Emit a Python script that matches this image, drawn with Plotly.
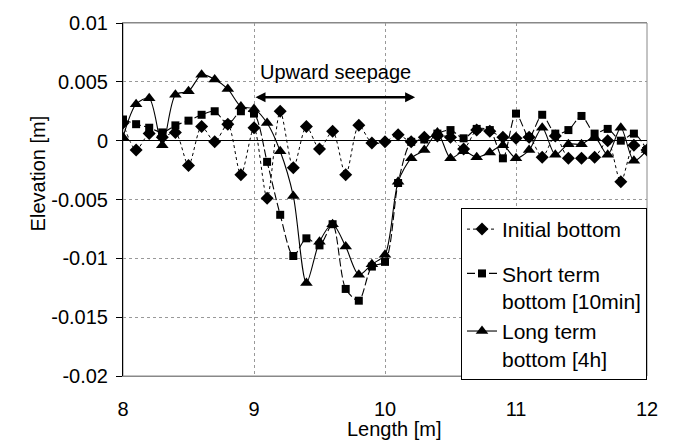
import plotly.graph_objects as go

length_m = [8.0, 8.1, 8.2, 8.3, 8.4, 8.5, 8.6, 8.7, 8.8, 8.9,
            9.0, 9.1, 9.2, 9.3, 9.4, 9.5, 9.6, 9.7, 9.8, 9.9,
            10.0, 10.1, 10.2, 10.3, 10.4, 10.5, 10.6, 10.7, 10.8, 10.9,
            11.0, 11.1, 11.2, 11.3, 11.4, 11.5, 11.6, 11.7, 11.8, 11.9, 12.0]

initial_bottom = [0.0015, -0.0008, 0.0006, 0.0003, 0.0007, -0.0021, 0.0012, -0.0001, 0.0014, -0.0029,
                  0.0011, -0.0049, 0.0025, -0.0023, 0.0012, -0.0007, 0.0008, -0.0029, 0.0013, -0.0002,
                  -0.0001, 0.0005, -0.0001, 0.0003, 0.0004, 0.0003, -0.0007, 0.0009, 0.0008, 0.0003,
                  0.0002, 0.0003, -0.0014, 0.0004, -0.0015, -0.0015, -0.0014, 0.0000, -0.0035, -0.0004, -0.0008]

short_term = [0.0018, 0.0014, 0.0011, 0.0007, 0.0013, 0.0017, 0.0022, 0.0025, 0.0014, 0.0025,
              0.0023, -0.0018, -0.0063, -0.0098, -0.0083, -0.0089, -0.0071, -0.0126, -0.0136, -0.0107,
              -0.0103, -0.0036, -0.0001, 0.0001, 0.0006, 0.0009, 0.0002, 0.0010, 0.0009, -0.0015,
              0.0023, 0.0003, 0.0022, 0.0006, 0.0009, 0.0021, 0.0006, 0.0010, 0.0000, 0.0006, -0.0008]

long_term = [0.0003, 0.0031, 0.0036, -0.0004, 0.0039, 0.0042, 0.0056, 0.0052, 0.0044, 0.0029,
             0.0027, 0.0015, -0.0009, -0.0047, -0.0121, -0.0086, -0.0071, -0.0090, -0.0114, -0.0105,
             -0.0097, -0.0035, -0.0015, -0.0008, 0.0007, -0.0015, -0.0009, -0.0014, -0.0010, -0.0004,
             -0.0015, -0.0008, 0.0011, -0.0012, -0.0003, -0.0003, 0.0003, -0.0012, 0.0011, -0.0017, -0.0008]

x_ticks = [8, 9, 10, 11, 12]
x_tick_labels = ["8", "9", "10", "11", "12"]
y_ticks = [0.01, 0.005, 0, -0.005, -0.01, -0.015, -0.02]
y_tick_labels = ["0.01", "0.005", "0", "-0.005", "-0.01", "-0.015", "-0.02"]

FONT = "Liberation Sans, Arial, sans-serif"

fig = go.Figure()
fig.add_trace(go.Scatter(
    x=length_m, y=initial_bottom, name="Initial bottom", mode="lines+markers",
    legendgroup="g1",
    line=dict(color="black", width=1, dash="dot", shape="spline", smoothing=0.8),
    marker=dict(symbol="diamond", size=10, color="black")))
fig.add_trace(go.Scatter(
    x=length_m, y=short_term, name="Short term<br>bottom [10min]", mode="lines+markers",
    legendgroup="g2",
    line=dict(color="black", width=1.1, dash="8px,3px", shape="spline", smoothing=0.8),
    marker=dict(symbol="square", size=8, color="black")))
fig.add_trace(go.Scatter(
    x=length_m, y=long_term, name="Long term<br>bottom [4h]", mode="lines+markers",
    legendgroup="g2",
    line=dict(color="black", width=1.1, shape="spline", smoothing=0.8),
    marker=dict(symbol="triangle-up", size=11, color="black")))

fig.update_layout(
    width=673, height=445,
    margin=dict(l=123, r=26, t=17, b=69),
    paper_bgcolor="white", plot_bgcolor="white",
    font=dict(family=FONT, size=20, color="black"),
    showlegend=True,
    legend=dict(x=1, xanchor="right", y=0.476, yanchor="top",
                bgcolor="white", bordercolor="black", borderwidth=1,
                font=dict(size=21), valign="top", tracegroupgap=14,
                itemwidth=30, groupclick="toggleitem"),
    xaxis=dict(range=[8, 12], tickvals=x_ticks, ticktext=x_tick_labels,
               showgrid=True, gridcolor="#999999", griddash="dot", gridwidth=1,
               zeroline=False, showline=True, linecolor="#888888", mirror=True,
               ticks="", ticklabelstandoff=15, tickfont=dict(size=20)),
    yaxis=dict(range=[-0.02, 0.01], tickvals=y_ticks, ticktext=y_tick_labels,
               showgrid=True, gridcolor="#999999", griddash="dot", gridwidth=1,
               zeroline=True, zerolinecolor="black", zerolinewidth=1,
               showline=True, linecolor="black", linewidth=1, mirror=False,
               ticks="outside", ticklen=6, tickcolor="black",
               ticklabelstandoff=4, tickfont=dict(size=20)),
    shapes=[dict(type="rect", xref="paper", yref="paper", x0=0, x1=1, y0=0, y1=1,
                 line=dict(color="#888888", width=1), layer="below")],
    annotations=[
        dict(text="Elevation [m]", xref="paper", yref="paper", x=-0.187, y=0.574,
             textangle=-90, showarrow=False, font=dict(size=20)),
        dict(text="Length [m]", xref="paper", yref="paper", x=0.519, y=-0.15,
             showarrow=False, font=dict(size=20), yanchor="middle"),
        dict(text="Upward seepage", xref="x", yref="y", x=9.62, y=0.0058,
             showarrow=False, font=dict(size=20)),
        dict(text="", xref="x", yref="y", axref="x", ayref="y",
             x=10.23, y=0.0037, ax=9.0, ay=0.0037, showarrow=True,
             arrowhead=2, arrowside="end+start", arrowwidth=2.5, arrowsize=0.8,
             arrowcolor="black"),
    ],
)

fig.write_html("out.html")
